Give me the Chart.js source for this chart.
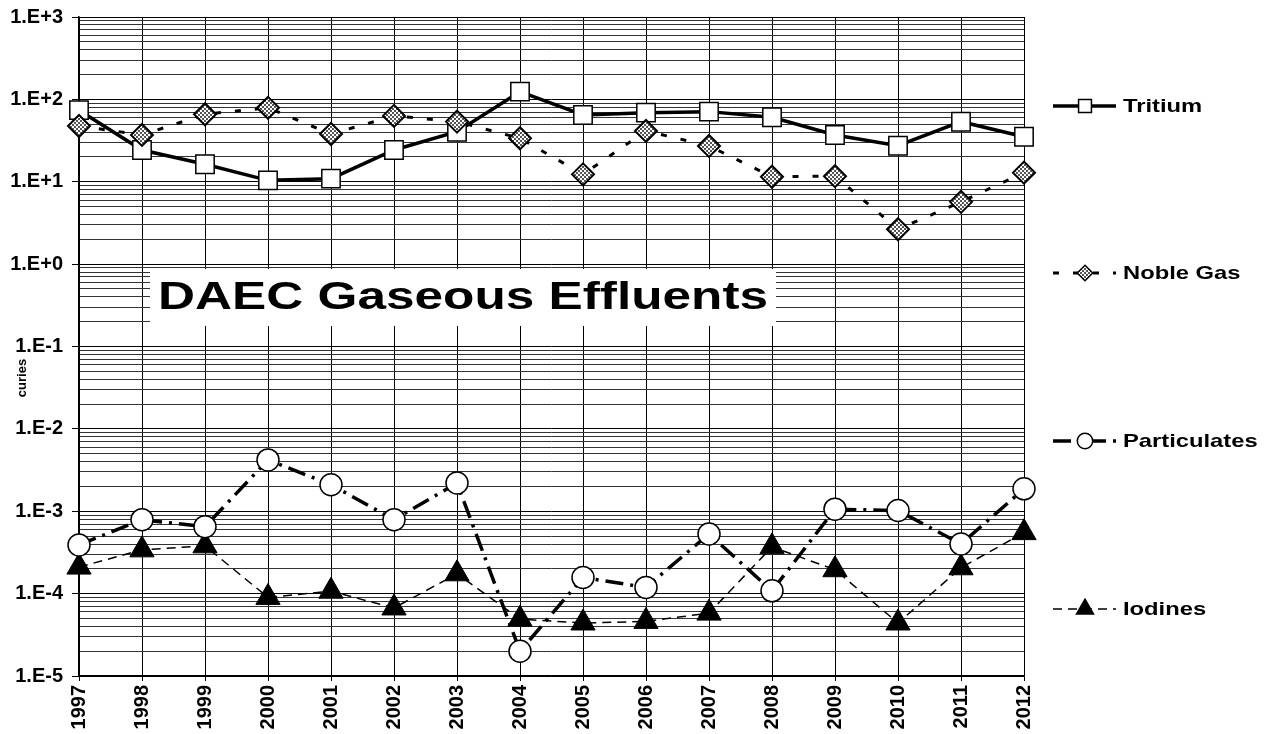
<!DOCTYPE html>
<html>
<head>
<meta charset="utf-8">
<script src="https://cdn.jsdelivr.net/npm/chart.js@4.4.0/dist/chart.umd.min.js"></script>
<style>
  html, body { margin: 0; padding: 0; background: #fff; }
  #wrap { width: 1271px; height: 734px; position: relative; }
</style>
</head>
<body>
<div id="wrap"><canvas id="myChart"></canvas></div>
<script>
const years = ['1997', '1998', '1999', '2000', '2001', '2002', '2003', '2004',
  '2005', '2006', '2007', '2008', '2009', '2010', '2011', '2012'];

const tritium = [74, 24.3, 16.3, 10.4, 10.9, 24.3, 40.5, 124, 64.7, 69, 71, 60.6, 37, 27.4, 53.6, 35.2];
const nobleGas = [47.5, 37, 66, 79, 38, 63, 53.7, 33.7, 12.3, 41.4, 27.2, 11.5, 11.7, 2.65, 5.7, 12.9];
const particulates = [3.9e-4, 7.9e-4, 6.5e-4, 4.2e-3, 2.1e-3, 7.9e-4, 2.2e-3, 2.0e-5,
  1.57e-4, 1.19e-4, 5.3e-4, 1.08e-4, 1.06e-3, 1.02e-3, 4.0e-4, 1.87e-3];
const iodines = [2.1e-4, 3.4e-4, 3.8e-4, 9.0e-5, 1.07e-4, 6.7e-5, 1.74e-4, 4.9e-5,
  4.4e-5, 4.6e-5, 5.8e-5, 3.7e-4, 1.95e-4, 4.4e-5, 2.06e-4, 5.5e-4];

const decades = [1e-5, 1e-4, 1e-3, 1e-2, 1e-1, 1, 10, 100, 1000];
const yTickLabels = ['1.E-5', '1.E-4', '1.E-3', '1.E-2', '1.E-1', '1.E+0', '1.E+1', '1.E+2', '1.E+3'];
const minorSteps = [2, 3, 4, 5, 6, 7, 8, 9];

const FONT = "'Liberation Sans', Arial, sans-serif";

// grey speckled fill for the noble gas diamonds
function makeHatch() {
  const c = document.createElement('canvas');
  c.width = 4; c.height = 4;
  const g = c.getContext('2d');
  g.fillStyle = '#fff';
  g.fillRect(0, 0, 4, 4);
  g.fillStyle = '#555';
  g.fillRect(0, 0, 2, 2);
  g.fillRect(2, 2, 2, 2);
  return g.createPattern(c, 'repeat');
}

const ctx = document.getElementById('myChart').getContext('2d');
const hatch = makeHatch();

function isDecade(v) {
  const l = Math.log10(v);
  return Math.abs(l - Math.round(l)) < 1e-6;
}

const titleBox = {
  id: 'titleBox',
  beforeDatasetsDraw(chart) {
    const c = chart.ctx;
    c.save();
    c.fillStyle = '#fff';
    c.fillRect(150, 269, 626, 57);
    c.translate(463, 299);
    c.scale(1.35, 1);
    c.fillStyle = '#000';
    c.font = 'bold 38px ' + FONT;
    c.textAlign = 'center';
    c.textBaseline = 'middle';
    c.fillText('DAEC Gaseous Effluents', 0, 0);
    c.restore();

    // dotted top and right frame
    const a = chart.chartArea;
    c.save();
    c.strokeStyle = '#000';
    c.lineWidth = 1;
    c.setLineDash([2, 1]);
    c.beginPath();
    c.moveTo(a.left, a.top + 0.5);
    c.lineTo(a.right + 0.5, a.top + 0.5);
    c.lineTo(a.right + 0.5, a.bottom);
    c.stroke();
    c.restore();

    // y axis caption, sits a bit below the middle like the original
    c.save();
    c.translate(22, 378);
    c.rotate(-Math.PI / 2);
    c.fillStyle = '#000';
    c.font = 'bold 13px ' + FONT;
    c.textAlign = 'center';
    c.textBaseline = 'middle';
    c.fillText('curies', 0, 0);
    c.restore();
  }
};

const sideLegend = {
  id: 'sideLegend',
  afterDraw(chart) {
    const c = chart.ctx;
    const rows = [106, 273, 441, 609];
    chart.data.datasets.forEach((ds, i) => {
      const y = rows[i];
      c.save();
      c.strokeStyle = '#000';
      c.lineWidth = ds.borderWidth;
      c.setLineDash(ds.borderDash || []);
      c.beginPath();
      c.moveTo(1053, y);
      c.lineTo(1116, y);
      c.stroke();
      c.setLineDash([]);
      c.lineWidth = 1.5;
      c.fillStyle = ds.pointBackgroundColor;
      const r = ds.pointRadius * 0.7;
      c.beginPath();
      if (ds.pointStyle === 'rect') {
        const h = r * Math.SQRT1_2;
        c.rect(1085 - h, y - h, 2 * h, 2 * h);
      } else if (ds.pointStyle === 'rectRot') {
        c.moveTo(1085, y - r); c.lineTo(1085 + r, y);
        c.lineTo(1085, y + r); c.lineTo(1085 - r, y);
        c.closePath();
      } else if (ds.pointStyle === 'circle') {
        c.arc(1085, y, r, 0, Math.PI * 2);
      } else {
        c.moveTo(1085, y - r);
        c.lineTo(1085 + r * 0.866, y + r / 2);
        c.lineTo(1085 - r * 0.866, y + r / 2);
        c.closePath();
      }
      c.fill();
      c.stroke();
      c.translate(1123, y);
      c.scale(1.25, 1);
      c.fillStyle = '#000';
      c.font = 'bold 19px ' + FONT;
      c.textAlign = 'left';
      c.textBaseline = 'middle';
      c.fillText(ds.label, 0, 1);
      c.restore();
    });
  }
};

new Chart(ctx, {
  type: 'line',
  data: {
    labels: years,
    datasets: [
      {
        label: 'Tritium',
        data: tritium,
        borderColor: '#000',
        borderWidth: 3.5,
        pointStyle: 'rect',
        pointRadius: 13,
        pointBackgroundColor: '#fff',
        pointBorderColor: '#000',
        pointBorderWidth: 1.5,
        order: 1
      },
      {
        label: 'Noble Gas',
        data: nobleGas,
        borderColor: '#000',
        borderWidth: 3,
        borderDash: [6, 14],
        pointStyle: 'rectRot',
        pointRadius: 11,
        pointBackgroundColor: hatch,
        pointBorderColor: '#000',
        pointBorderWidth: 2,
        order: 0
      },
      {
        label: 'Particulates',
        data: particulates,
        borderColor: '#000',
        borderWidth: 3.5,
        borderDash: [18, 7, 3, 7],
        pointStyle: 'circle',
        pointRadius: 11,
        pointBackgroundColor: '#fff',
        pointBorderColor: '#000',
        pointBorderWidth: 1.5,
        order: 2
      },
      {
        label: 'Iodines',
        data: iodines,
        borderColor: '#000',
        borderWidth: 1.5,
        borderDash: [9, 6],
        pointStyle: 'triangle',
        pointRadius: 14,
        pointBackgroundColor: '#000',
        pointBorderColor: '#000',
        pointBorderWidth: 1,
        order: 3
      }
    ]
  },
  options: {
    responsive: true,
    maintainAspectRatio: false,
    animation: false,
    devicePixelRatio: 1,
    layout: { padding: { left: 0, top: 17, right: 247, bottom: 0 } },
    datasets: { line: { clip: false, tension: 0, fill: false } },
    plugins: {
      legend: { display: false },
      tooltip: { enabled: false }
    },
    scales: {
      x: {
        offset: false,
        afterFit: (scale) => { scale.height = 58; scale.paddingLeft = 0; scale.paddingRight = 0; },
        grid: { color: '#000', lineWidth: 1, tickLength: 5, tickColor: '#000' },
        border: { color: '#000', width: 1.5 },
        ticks: {
          color: '#000',
          font: { family: FONT, size: 20, weight: 'bold' },
          minRotation: 90,
          maxRotation: 90,
          autoSkip: false,
          padding: 4
        }
      },
      y: {
        type: 'logarithmic',
        min: 1e-5,
        max: 1e3,
        afterFit: (scale) => { scale.width = 79; scale.paddingTop = 0; scale.paddingBottom = 0; },
        afterBuildTicks: (scale) => {
          const ticks = [];
          decades.forEach((d, i) => {
            ticks.push({ value: d });
            if (i < decades.length - 1) minorSteps.forEach(m => ticks.push({ value: d * m }));
          });
          scale.ticks = ticks;
        },
        grid: {
          color: (c) => (c.tick && isDecade(c.tick.value)) ? '#000' : '#333',
          lineWidth: 1,
          tickLength: 7,
          tickColor: (c) => (c.tick && isDecade(c.tick.value)) ? '#000' : 'rgba(0,0,0,0)'
        },
        border: { color: '#000', width: 1.5 },
        ticks: {
          color: '#000',
          autoSkip: false,
          font: { family: FONT, size: 20, weight: 'bold' },
          padding: 9,
          callback: (v) => {
            const i = decades.findIndex(d => Math.abs(Math.log10(d) - Math.log10(v)) < 1e-6);
            return i >= 0 ? yTickLabels[i] : '';
          }
        }
      }
    }
  },
  plugins: [titleBox, sideLegend]
});
</script>
</body>
</html>
